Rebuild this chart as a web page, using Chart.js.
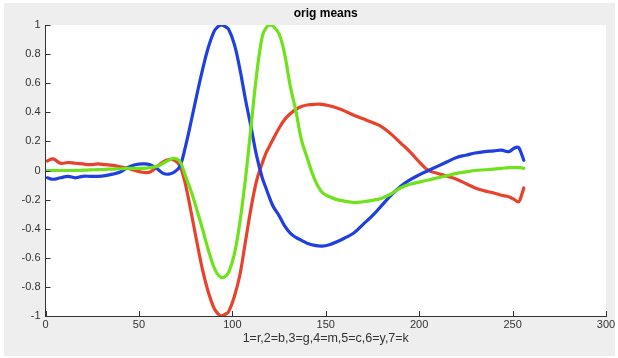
<!DOCTYPE html>
<html>
<head>
<meta charset="utf-8">
<title>orig means</title>
<script src="https://cdn.jsdelivr.net/npm/chart.js@4/dist/chart.umd.min.js"></script>
<style>
  html, body { margin: 0; padding: 0; background: #ffffff; }
  canvas { display: block; }
</style>
</head>
<body>
<canvas id="meansChart" width="618" height="358"></canvas>
<script>
// sample positions (x) shared by the three mean curves
const xs = [1, 4, 8, 12, 16, 20, 24, 28, 32, 36, 40, 44, 48, 52, 56, 60, 63, 66, 69, 72,
  75, 78, 81, 84, 87, 90, 92, 94, 96, 98, 101, 104, 107, 110, 113, 116, 118, 120, 122, 125,
  128, 131, 134, 137, 140, 144, 148, 152, 156, 160, 165, 170, 175, 180, 185, 190, 195, 200,
  205, 210, 215, 220, 225, 230, 235, 240, 244, 248, 251, 253, 254, 256];

// 1 = r
const redMeans = [0.065, 0.08, 0.05, 0.055, 0.05, 0.045, 0.04, 0.045, 0.04, 0.035, 0.025, 0.015, 0.0, -0.012, -0.01, 0.03, 0.06, 0.075, 0.072, 0.03,
  -0.1, -0.29, -0.49, -0.68, -0.83, -0.94, -0.98, -1.0, -0.99, -0.97, -0.87, -0.72, -0.49, -0.26, -0.07, 0.05, 0.12, 0.17, 0.22, 0.29,
  0.35, 0.39, 0.42, 0.44, 0.45, 0.455, 0.455, 0.445, 0.43, 0.41, 0.38, 0.355, 0.33, 0.3, 0.25, 0.19, 0.13, 0.06,
  0.0, -0.02, -0.04, -0.06, -0.09, -0.12, -0.14, -0.155, -0.17, -0.18, -0.2, -0.215, -0.2, -0.12];

// 2 = b
const blueMeans = [-0.05, -0.06, -0.05, -0.04, -0.05, -0.04, -0.04, -0.04, -0.035, -0.025, -0.01, 0.02, 0.04, 0.045, 0.04, 0.01, -0.02, -0.025, -0.01, 0.03,
  0.17, 0.34, 0.52, 0.69, 0.84, 0.95, 0.985, 1.0, 0.99, 0.97, 0.87, 0.7, 0.49, 0.3, 0.1, -0.05, -0.12, -0.19, -0.25, -0.31,
  -0.38, -0.43, -0.46, -0.48, -0.5, -0.515, -0.52, -0.51, -0.49, -0.465, -0.43, -0.37, -0.31, -0.24, -0.17, -0.11, -0.065, -0.03,
  0.0, 0.03, 0.06, 0.09, 0.105, 0.12, 0.13, 0.135, 0.14, 0.13, 0.155, 0.16, 0.14, 0.07];

// 3 = g
const greenMeans = [0.0, 0.0, 0.0, 0.0, 0.0, 0.002, 0.004, 0.006, 0.008, 0.01, 0.012, 0.015, 0.015, 0.015, 0.02, 0.03, 0.05, 0.07, 0.084, 0.06,
  -0.04, -0.145, -0.27, -0.4, -0.54, -0.66, -0.71, -0.735, -0.73, -0.7, -0.58, -0.36, -0.06, 0.3, 0.66, 0.92, 0.98, 1.0, 0.99, 0.94,
  0.8, 0.58, 0.41, 0.21, 0.09, -0.06, -0.15, -0.18, -0.2, -0.21, -0.22, -0.215, -0.205, -0.19, -0.16, -0.12, -0.095, -0.08,
  -0.065, -0.05, -0.035, -0.02, -0.01, 0.0, 0.005, 0.01, 0.015, 0.02, 0.02, 0.02, 0.02, 0.015];

const seriesColors = ['#e8412c', '#1f3fe0', '#6ee21a'];
const chartTitle = 'orig means';
const xLabel = '1=r,2=b,3=g,4=m,5=c,6=y,7=k';
const tickFont = { family: 'Liberation Sans, Arial, sans-serif', size: 11 };

function toPoints(values) {
    return xs.map((x, i) => ({ x: x, y: values[i] }));
}

// gray figure background + white axes box
const figureBackground = {
    id: 'figureBackground',
    beforeDraw(chart) {
        const ctx = chart.ctx;
        const area = chart.chartArea;
        ctx.save();
        ctx.fillStyle = '#ffffff';
        ctx.fillRect(0, 0, chart.width, chart.height);
        ctx.fillStyle = '#eeeeee';
        ctx.fillRect(4, 3, chart.width - 7, chart.height - 5);
        ctx.fillStyle = '#ffffff';
        ctx.fillRect(area.left, area.top, area.right - area.left, area.bottom - area.top);
        ctx.restore();
    }
};

// inward tick marks + title centred over the axes box
const axesDecor = {
    id: 'axesDecor',
    afterDraw(chart) {
        const ctx = chart.ctx;
        const xScale = chart.scales.x;
        const yScale = chart.scales.y;
        const area = chart.chartArea;
        ctx.save();
        ctx.strokeStyle = '#333333';
        ctx.lineWidth = 1;
        ctx.beginPath();
        xScale.ticks.forEach(t => {
            const px = Math.round(xScale.getPixelForValue(t.value)) + 0.5;
            ctx.moveTo(px, area.bottom);
            ctx.lineTo(px, area.bottom - 5);
        });
        yScale.ticks.forEach(t => {
            const py = Math.round(yScale.getPixelForValue(t.value)) + 0.5;
            ctx.moveTo(area.left, py);
            ctx.lineTo(area.left + 5, py);
        });
        ctx.stroke();

        ctx.fillStyle = '#000000';
        ctx.font = 'bold 12px "Liberation Sans", Arial, sans-serif';
        ctx.textAlign = 'center';
        ctx.textBaseline = 'middle';
        ctx.fillText(chartTitle, (area.left + area.right) / 2, 14);
        ctx.restore();
    }
};

const ctx = document.getElementById('meansChart').getContext('2d');
new Chart(ctx, {
    type: 'line',
    data: {
        datasets: [
            { label: '1', data: toPoints(redMeans), borderColor: seriesColors[0], order: 3 },
            { label: '2', data: toPoints(blueMeans), borderColor: seriesColors[1], order: 2 },
            { label: '3', data: toPoints(greenMeans), borderColor: seriesColors[2], order: 1 }
        ]
    },
    options: {
        responsive: false,
        animation: false,
        layout: { padding: { left: 5, right: 12, top: 25, bottom: 0 } },
        elements: {
            line: { borderWidth: 3.2, tension: 0.4, fill: false, borderCapStyle: 'round', borderJoinStyle: 'round' },
            point: { radius: 0 }
        },
        plugins: {
            legend: { display: false },
            tooltip: { enabled: false },
            title: { display: false }
        },
        scales: {
            x: {
                type: 'linear',
                min: 0,
                max: 300,
                grid: { display: false, drawTicks: false },
                border: { display: true, color: '#333333', width: 1 },
                ticks: {
                    stepSize: 50,
                    padding: 2,
                    color: '#333333',
                    font: tickFont
                },
                title: {
                    display: true,
                    text: xLabel,
                    color: '#333333',
                    font: { family: 'Liberation Sans, Arial, sans-serif', size: 12.5 },
                    padding: { top: 0, bottom: 12 }
                },
                afterFit(scale) { scale.height = 42; }
            },
            y: {
                min: -1,
                max: 1,
                grid: { display: false, drawTicks: false },
                border: { display: true, color: '#333333', width: 1 },
                ticks: {
                    stepSize: 0.2,
                    padding: 5,
                    color: '#333333',
                    font: tickFont,
                    callback: value => String(Math.round(value * 10) / 10)
                },
                afterFit(scale) { scale.width = 40.5; }
            }
        }
    },
    plugins: [figureBackground, axesDecor]
});
</script>
</body>
</html>
